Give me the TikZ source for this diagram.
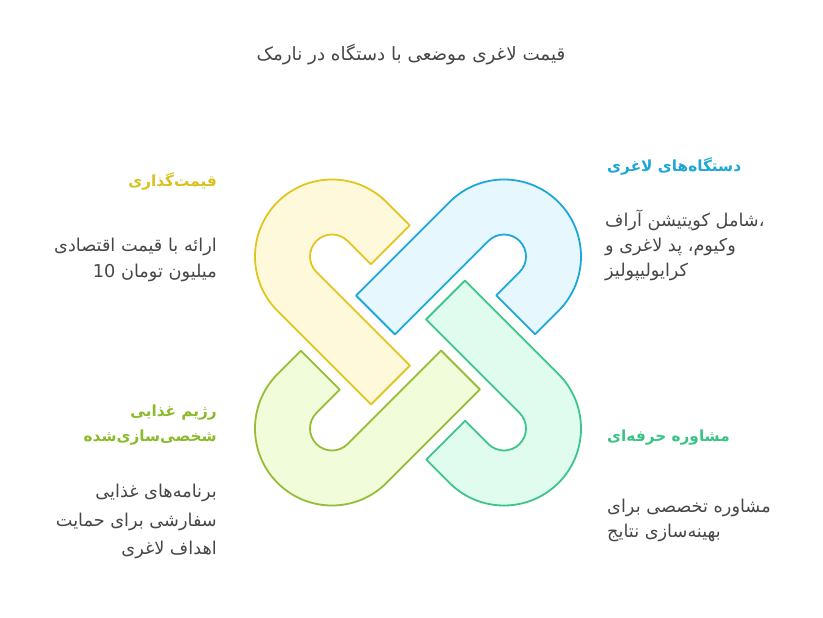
\documentclass[tikz,border=0pt]{standalone}
\usepackage{fontspec}
\TeXXeTstate=1
\newfontfamily\fa[Script=Arabic]{DejaVu Sans}
\definecolor{ystroke}{HTML}{E0C61E}
\definecolor{yfill}{HTML}{FFF9DB}
\definecolor{bstroke}{HTML}{1CA8DA}
\definecolor{bfill}{HTML}{E6F7FD}
\definecolor{gstroke}{HTML}{3CC68A}
\definecolor{gfill}{HTML}{DFFCEE}
\definecolor{lstroke}{HTML}{96BD36}
\definecolor{lfill}{HTML}{F1FCDA}
\definecolor{ytext}{HTML}{D9C21E}
\definecolor{btext}{HTML}{1EA6D9}
\definecolor{gtext}{HTML}{3BC385}
\definecolor{ltext}{HTML}{8DBA2C}
\definecolor{bodytext}{HTML}{474747}
\tikzset{
  hook/.pic={
    \path[pic actions] (-8.25,117.15) -- (-31.553,140.447)
      arc[start angle=45,end angle=225,radius=77]
      -- (-46.947,-61.947) -- (-8.056,-23.056) -- (-101.556,70.444)
      arc[start angle=225,end angle=45,radius=22]
      -- (-47.14,78.26) -- cycle;
  },
  band/.style={line width=1.8pt, line join=round},
  heading/.style={inner sep=0pt, font=\fa\fontsize{15.3}{18}\selectfont\bfseries},
  body/.style={inner sep=0pt, text=bodytext, font=\fa\fontsize{17.7}{20}\selectfont},
}
\begin{document}
\begin{tikzpicture}[x=1pt,y=1pt]
\useasboundingbox (0,0) rectangle (823,-618);
\fill[white] (0,0) rectangle (823,-618);
\coordinate (O) at (418,-342.5);
\pic[band, draw=ystroke, fill=yfill] at (O) {hook};
\pic[band, draw=bstroke, fill=bfill, rotate=-90] at (O) {hook};
\pic[band, draw=gstroke, fill=gfill, rotate=180] at (O) {hook};
\pic[band, draw=lstroke, fill=lfill, rotate=90] at (O) {hook};
% title
\node[body, text=bodytext, font=\fa\fontsize{18.3}{20}\selectfont] (title) at (411,-55) {\beginR قیمت لاغری موضعی با دستگاه در نارمک\endR};
% yellow
\node[heading, text=ytext, anchor=east] (yh) at (217,-181.7) {\beginR قیمت‌گذاری\endR};
\node[body, anchor=east] (yb1) at (217,-246.7) {\beginR ارائه با قیمت اقتصادی\endR};
\node[body, anchor=east] (yb2) at (217,-272.7) {\beginR میلیون تومان \beginL 10\endL\endR};
% blue
\node[heading, text=btext, anchor=west] (bh) at (607,-166.7) {\beginR دستگاه‌های لاغری\endR};
\node[body, anchor=west] (bb1) at (605,-220) {\beginR ،شامل کویتیشن آراف\endR};
\node[body, anchor=west] (bb2) at (605,-246.7) {\beginR وکیوم، پد لاغری و\endR};
\node[body, anchor=west] (bb3) at (605,-271.7) {\beginR کرایولیپولیز\endR};
% lime
\node[heading, text=ltext, anchor=east] (lh1) at (217,-413) {\beginR رژیم غذایی\endR};
\node[heading, text=ltext, anchor=east] (lh2) at (217,-438) {\beginR شخصی‌سازی‌شده\endR};
\node[body, anchor=east] (lb1) at (217,-493) {\beginR برنامه‌های غذایی\endR};
\node[body, anchor=east] (lb2) at (217,-521.7) {\beginR سفارشی برای حمایت\endR};
\node[body, anchor=east] (lb3) at (217,-550) {\beginR اهداف لاغری\endR};
% green
\node[heading, text=gtext, anchor=west] (gh) at (607,-438) {\beginR مشاوره حرفه‌ای\endR};
\node[body, anchor=west] (gb1) at (607,-508) {\beginR مشاوره تخصصی برای\endR};
\node[body, anchor=west] (gb2) at (607,-533) {\beginR بهینه‌سازی نتایج\endR};
\end{tikzpicture}
\end{document}
